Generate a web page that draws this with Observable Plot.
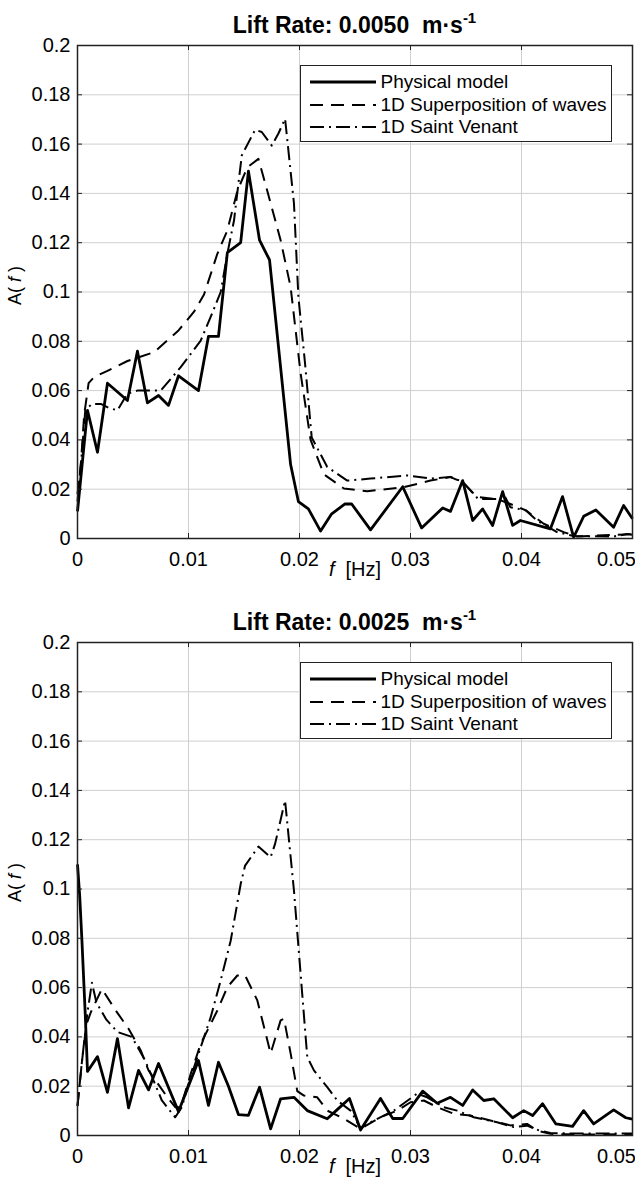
<!DOCTYPE html>
<html>
<head>
<meta charset="utf-8">
<script src="https://cdn.jsdelivr.net/npm/d3@7"></script>
<script src="https://cdn.jsdelivr.net/npm/@observablehq/plot@0.6"></script>
<style>
  body { margin: 0; background: #fff; font-family: "Liberation Sans", Arial, sans-serif; }
  .panel { position: relative; width: 635px; }
  .panel > svg { display: block; }
  .title { position: absolute; left: 77px; top: 0; width: 555px; padding-top: 14px;
           text-align: center; font-weight: bold; font-size: 23px; line-height: 23px; color: #000; white-space: pre; }
  .sup { font-size: 15px; position: relative; top: -10px; line-height: 0; }
  .legend { position: absolute; left: 300px; top: 65px; width: 312px; height: 77px; box-sizing: border-box;
            border: 1.5px solid #222; background: #fff; }
  .row { position: absolute; left: 0; height: 22px; display: flex; align-items: center; font-size: 19px; color: #000; white-space: nowrap; }
  .row svg { margin-left: 8.5px; margin-right: 5px; }
</style>
</head>
<body>
<div id="root"></div>
<script>
// ---------------- data ----------------
const xTicks = [0, 0.01, 0.02, 0.03, 0.04, 0.05];
const xTickLabels = ["0", "0.01", "0.02", "0.03", "0.04", "0.05"];
const yTicks = [0, 0.02, 0.04, 0.06, 0.08, 0.1, 0.12, 0.14, 0.16, 0.18, 0.2];
const yTickLabels = ["0", "0.02", "0.04", "0.06", "0.08", "0.1", "0.12", "0.14", "0.16", "0.18", "0.2"];
const seriesNames = ["Physical model", "1D Superposition of waves", "1D Saint Venant"];
const panelTitles = ["Lift Rate: 0.0050  m\u00b7s", "Lift Rate: 0.0025  m\u00b7s"];
const xLabel = "f  [Hz]";
const yLabel = "A( f )";

// Lift rate 0.0050 m/s  — [f (Hz), A(f)]
const top_physical = [
  [0, 0.011], [0.0009, 0.052], [0.0018, 0.035], [0.0027, 0.063], [0.0045, 0.056], [0.0054, 0.076],
  [0.0063, 0.055], [0.0073, 0.058], [0.0082, 0.054], [0.0091, 0.066], [0.0109, 0.060], [0.0118, 0.082],
  [0.0127, 0.082], [0.0135, 0.116], [0.0147, 0.120], [0.0154, 0.149], [0.0164, 0.121], [0.0173, 0.113],
  [0.0192, 0.030], [0.0199, 0.015], [0.0208, 0.012], [0.0219, 0.003], [0.0229, 0.010], [0.0241, 0.014],
  [0.0247, 0.014], [0.0264, 0.0035], [0.0293, 0.021], [0.0310, 0.0043], [0.0329, 0.0124], [0.0336, 0.011],
  [0.0347, 0.0235], [0.0356, 0.0073], [0.0365, 0.012], [0.0374, 0.0053], [0.0383, 0.019], [0.0392, 0.0053],
  [0.0399, 0.0073], [0.0426, 0.0039], [0.0437, 0.017], [0.0447, 0.0005], [0.0456, 0.009], [0.0467, 0.0116],
  [0.0483, 0.0046], [0.0492, 0.0134], [0.0500, 0.008]
];
const top_superposition = [
  [0, 0.018], [0.0003, 0.03], [0.0006, 0.05], [0.001, 0.063], [0.0015, 0.0655], [0.0027, 0.068],
  [0.0045, 0.072], [0.0069, 0.0756], [0.0091, 0.0844], [0.0105, 0.092], [0.0114, 0.099], [0.0126, 0.1155],
  [0.0135, 0.125], [0.0144, 0.141], [0.0153, 0.1506], [0.0163, 0.154], [0.0171, 0.141], [0.0183, 0.121],
  [0.0192, 0.102], [0.0201, 0.067], [0.021, 0.04], [0.0222, 0.026], [0.024, 0.0203], [0.0261, 0.0192],
  [0.0294, 0.0208], [0.0318, 0.0235], [0.0336, 0.0249], [0.0347, 0.0229], [0.036, 0.0168], [0.0378, 0.016],
  [0.039, 0.014], [0.0404, 0.0114], [0.042, 0.006], [0.0438, 0.0026], [0.045, 0.0008], [0.0468, 0.0012],
  [0.05, 0.0018]
];
const top_saintvenant = [
  [0, 0.015], [0.0004, 0.035], [0.0007, 0.052], [0.0013, 0.0546], [0.0021, 0.0546], [0.0028, 0.053],
  [0.0036, 0.052], [0.0045, 0.0588], [0.0054, 0.060], [0.0075, 0.060], [0.0093, 0.0695], [0.0111, 0.0803],
  [0.0121, 0.091], [0.0129, 0.100], [0.0135, 0.1155], [0.0141, 0.129], [0.0148, 0.1554], [0.016, 0.1658],
  [0.0166, 0.1649], [0.0175, 0.1594], [0.0181, 0.1643], [0.0187, 0.1703], [0.0195, 0.136], [0.0199, 0.098],
  [0.0205, 0.071], [0.0211, 0.041], [0.0225, 0.029], [0.0243, 0.0235], [0.0264, 0.0243], [0.0297, 0.0256],
  [0.0318, 0.0243], [0.0336, 0.025], [0.0347, 0.023], [0.0361, 0.016], [0.0378, 0.016], [0.0384, 0.0179],
  [0.039, 0.0127], [0.0404, 0.0114], [0.0414, 0.0073], [0.0432, 0.0026], [0.0447, 0.001], [0.0483, 0.0008],
  [0.0495, 0.0018], [0.05, 0.0015]
];

// Lift rate 0.0025 m/s
const bottom_physical = [
  [0, 0.11], [0.0002, 0.097], [0.0004, 0.079], [0.0007, 0.049], [0.0009, 0.026], [0.0018, 0.032],
  [0.0027, 0.0175], [0.0036, 0.0393], [0.0046, 0.0112], [0.0055, 0.0264], [0.0064, 0.0185], [0.0073, 0.0292],
  [0.0091, 0.0097], [0.0109, 0.0304], [0.0118, 0.0122], [0.0127, 0.0297], [0.0136, 0.020], [0.0145, 0.0085],
  [0.0154, 0.0082], [0.0164, 0.0196], [0.0174, 0.0027], [0.0183, 0.0149], [0.0195, 0.0155], [0.0207, 0.0101],
  [0.0225, 0.0068], [0.0234, 0.0105], [0.0245, 0.015], [0.0255, 0.0022], [0.0273, 0.015], [0.0284, 0.0069],
  [0.0293, 0.0069], [0.0311, 0.018], [0.0324, 0.0131], [0.0336, 0.0155], [0.0347, 0.0122], [0.0356, 0.0185],
  [0.0366, 0.0142], [0.0375, 0.0149], [0.0392, 0.0072], [0.0402, 0.0101], [0.041, 0.0081], [0.0419, 0.0129],
  [0.0431, 0.0047], [0.0446, 0.0037], [0.0456, 0.0101], [0.0465, 0.0047], [0.0483, 0.0104], [0.0494, 0.0072],
  [0.05, 0.0066]
];
const bottom_superposition = [
  [0, 0.012], [0.0004, 0.03], [0.0008, 0.045], [0.0012, 0.05], [0.0022, 0.0595], [0.0034, 0.051],
  [0.0046, 0.0433], [0.0057, 0.0345], [0.0064, 0.0264], [0.0081, 0.0155], [0.0088, 0.0115], [0.0093, 0.0115],
  [0.0102, 0.025], [0.0111, 0.0372], [0.0126, 0.0507], [0.0135, 0.0602], [0.0144, 0.0649], [0.0151, 0.0649],
  [0.0162, 0.0548], [0.0174, 0.0333], [0.0183, 0.0467], [0.0186, 0.0474], [0.0192, 0.0333], [0.0198, 0.018],
  [0.0204, 0.0162], [0.0216, 0.0155], [0.0225, 0.0101], [0.024, 0.0068], [0.0255, 0.0027], [0.0273, 0.0074],
  [0.0288, 0.0101], [0.03, 0.0135], [0.0312, 0.0142], [0.0324, 0.0115], [0.0339, 0.0088], [0.0354, 0.0081],
  [0.0372, 0.0061], [0.039, 0.0041], [0.0405, 0.0047], [0.0414, 0.002], [0.0426, 0.0007], [0.0438, 0.0005],
  [0.0468, 0.0004], [0.05, 0.0006]
];
const bottom_saintvenant = [
  [0, 0.012], [0.0004, 0.03], [0.0009, 0.05], [0.0013, 0.062], [0.0017, 0.054], [0.0026, 0.047],
  [0.0036, 0.042], [0.0049, 0.040], [0.0061, 0.0304], [0.0076, 0.0142], [0.0088, 0.0074], [0.0094, 0.0115],
  [0.0099, 0.0196], [0.0111, 0.0358], [0.012, 0.048], [0.0129, 0.0629], [0.0138, 0.079], [0.0147, 0.102],
  [0.0151, 0.1095], [0.0163, 0.1172], [0.0174, 0.1129], [0.0178, 0.1183], [0.0187, 0.1359], [0.0195, 0.0994],
  [0.0207, 0.0318], [0.0213, 0.0264], [0.0225, 0.0196], [0.0234, 0.0142], [0.0246, 0.0101], [0.0255, 0.003],
  [0.0267, 0.0061], [0.0285, 0.0101], [0.0306, 0.017], [0.0315, 0.0155], [0.033, 0.0115], [0.0342, 0.0101],
  [0.0357, 0.0074], [0.0378, 0.0054], [0.0393, 0.0034], [0.0405, 0.004], [0.0416, 0.002], [0.0426, 0.001],
  [0.045, 0.0008], [0.05, 0.0008]
];

// ---------------- styles ----------------
const lineStyles = [
  {strokeWidth: 2.8, dash: null},
  {strokeWidth: 2.0, dash: "13,8"},
  {strokeWidth: 2.0, dash: "14,5,2,5"}
];

const W = 635, ML = 77, MR = 3, MT = 45, PH = 493;
const PW = W - ML - MR;

function italicize(svg) {
  const NS = "http://www.w3.org/2000/svg";
  svg.querySelectorAll("text").forEach(t => {
    const s = t.textContent;
    let parts = null;
    if (s === yLabel) parts = ["A( ", "f", " )"];
    else if (s === xLabel) parts = ["", "f", "  [Hz]"];
    if (!parts) return;
    while (t.firstChild) t.removeChild(t.firstChild);
    parts.forEach((p, i) => {
      if (!p) return;
      const ts = document.createElementNS(NS, "tspan");
      ts.textContent = p;
      if (i === 1) ts.setAttribute("font-style", "italic");
      t.appendChild(ts);
    });
    t.setAttribute("xml:space", "preserve");
    t.style.whiteSpace = "pre";
  });
}

function makePanel(title, series, marginBottom) {
  const panel = document.createElement("div");
  panel.className = "panel";

  const lastTick = xTicks[xTicks.length - 1];
  const marks = [
    Plot.gridX(xTicks, {stroke: "#cfcfcf", strokeOpacity: 1, strokeWidth: 1}),
    Plot.gridY(yTicks, {stroke: "#cfcfcf", strokeOpacity: 1, strokeWidth: 1}),
    ...series.map((d, i) => Plot.line(d, {
      x: p => p[0], y: p => p[1], stroke: "#000",
      strokeWidth: lineStyles[i].strokeWidth,
      strokeDasharray: lineStyles[i].dash,
      strokeLinejoin: "round", strokeLinecap: "butt"
    })),
    // inward ticks on all four sides
    Plot.tickX(xTicks, {x: d => d, insetTop: PH - 5, stroke: "#222"}),
    Plot.tickX(xTicks, {x: d => d, insetBottom: PH - 5, stroke: "#222"}),
    Plot.tickY(yTicks, {y: d => d, insetRight: PW - 5, stroke: "#222"}),
    Plot.tickY(yTicks, {y: d => d, insetLeft: PW - 5, stroke: "#222"}),
    Plot.frame({stroke: "#222", strokeWidth: 1.5}),
    Plot.axisX(xTicks.filter(d => d !== lastTick), {tickSize: 0, tickPadding: 13, label: null, fontSize: 20,
      tickFormat: d => xTickLabels[xTicks.indexOf(d)]}),
    Plot.axisX([lastTick], {tickSize: 0, tickPadding: 13, label: null, fontSize: 20, dx: -16,
      tickFormat: d => xTickLabels[xTicks.indexOf(d)]}),
    Plot.axisY(yTicks, {tickSize: 0, tickPadding: 7, label: null, fontSize: 20,
      tickFormat: d => yTickLabels[yTicks.indexOf(d)]}),
    Plot.text([yLabel], {text: d => d, frameAnchor: "left", dx: -62, dy: 13, rotate: -90, fontSize: 18}),
    Plot.text([xLabel], {text: d => d, frameAnchor: "bottom", dy: 37, fontSize: 20})
  ];

  const svg = Plot.plot({
    width: W,
    height: MT + PH + marginBottom,
    marginLeft: ML, marginRight: MR, marginTop: MT, marginBottom: marginBottom,
    x: {domain: [0, 0.05]},
    y: {domain: [0, 0.2]},
    style: {fontFamily: "'Liberation Sans', Arial, sans-serif", fontSize: "20px", color: "#000", background: "#fff"},
    marks
  });
  italicize(svg);
  panel.appendChild(svg);

  // title (above the plot frame)
  const t = document.createElement("div");
  t.className = "title";
  t.textContent = title;
  const sup = document.createElement("span");
  sup.className = "sup";
  sup.textContent = "-1";
  t.appendChild(sup);
  panel.appendChild(t);

  // legend box
  const lg = document.createElement("div");
  lg.className = "legend";
  const centers = [17, 40, 62];
  seriesNames.forEach((name, i) => {
    const row = document.createElement("div");
    row.className = "row";
    row.style.top = (centers[i] - 1.5 - 11) + "px";
    const s = document.createElementNS("http://www.w3.org/2000/svg", "svg");
    s.setAttribute("width", 66); s.setAttribute("height", 10);
    const ln = document.createElementNS("http://www.w3.org/2000/svg", "line");
    ln.setAttribute("x1", 0); ln.setAttribute("x2", 66); ln.setAttribute("y1", 5); ln.setAttribute("y2", 5);
    ln.setAttribute("stroke", "#000");
    ln.setAttribute("stroke-width", lineStyles[i].strokeWidth);
    if (lineStyles[i].dash) ln.setAttribute("stroke-dasharray", lineStyles[i].dash);
    s.appendChild(ln);
    row.appendChild(s);
    const tx = document.createElement("span");
    tx.textContent = name;
    row.appendChild(tx);
    lg.appendChild(row);
  });
  panel.appendChild(lg);
  return panel;
}

const root = document.getElementById("root");
root.appendChild(makePanel(panelTitles[0], [top_physical, top_superposition, top_saintvenant], 59));
root.appendChild(makePanel(panelTitles[1], [bottom_physical, bottom_superposition, bottom_saintvenant], 50));
</script>
</body>
</html>
